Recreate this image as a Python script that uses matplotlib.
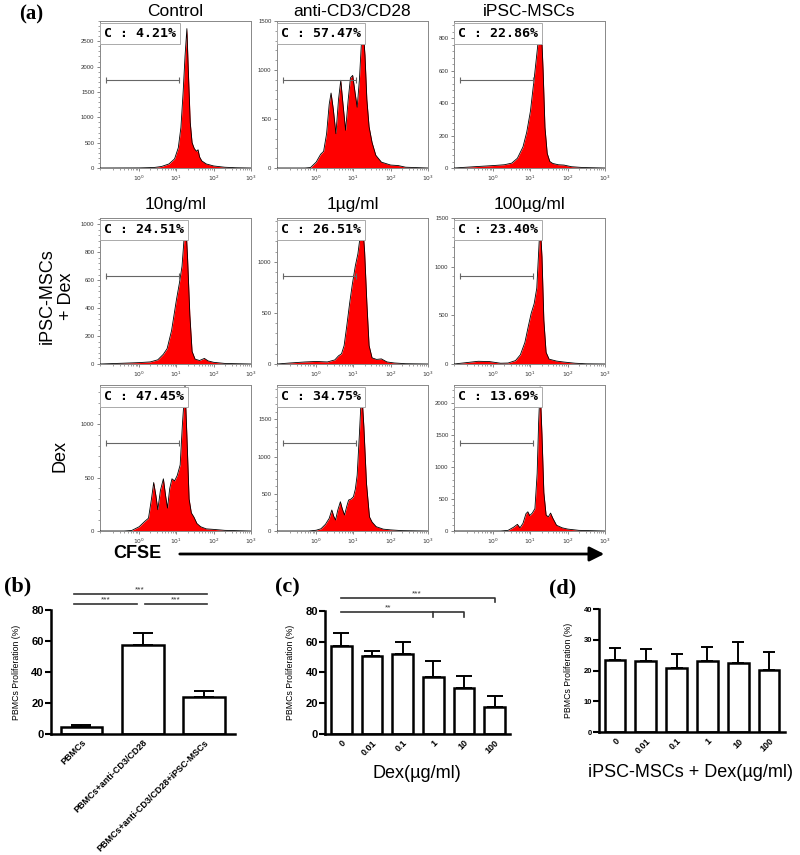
import matplotlib
matplotlib.use("Agg")
import matplotlib.pyplot as plt
import matplotlib.transforms as mtransforms
from matplotlib.patches import FancyArrowPatch
from matplotlib.ticker import LogLocator, NullFormatter, FixedLocator, AutoMinorLocator
import numpy as np

plt.rcParams['font.family'] = ['Liberation Sans', 'DejaVu Sans']

W, H = 800, 855

# (a) flow histograms, x as log10(CFSE), y as counts
ctrl_lx = [-1.05, 0.0, 0.4, 0.6, 0.8, 0.95, 1.05, 1.12, 1.18, 1.23, 1.28, 1.32, 1.37, 1.42, 1.48, 1.54, 1.58, 1.62, 1.68, 1.8, 2.0, 2.3, 2.6, 3.0]
ctrl_n = [0, 2, 10, 30, 80, 180, 400, 800, 1500, 2200, 2750, 1900, 900, 500, 380, 330, 360, 220, 140, 80, 40, 15, 5, 0]

cd3_lx = [-1.05, -0.3, -0.15, 0.0, 0.12, 0.2, 0.28, 0.35, 0.40, 0.46, 0.53, 0.6, 0.66, 0.72, 0.79, 0.86, 0.92, 0.98, 1.04, 1.10, 1.16, 1.21, 1.26, 1.31, 1.36, 1.42, 1.5, 1.6, 1.75, 2.0, 2.2, 2.4, 3.0]
cd3_n = [0, 0, 5, 60, 140, 170, 350, 650, 765, 600, 350, 700, 895, 650, 385, 700, 920, 945, 780, 620, 900, 1250, 1420, 1150, 700, 420, 260, 130, 60, 30, 25, 8, 0]

msc_lx = [-1.05, -0.5, 0.0, 0.3, 0.5, 0.65, 0.8, 0.9, 1.0, 1.1, 1.18, 1.24, 1.29, 1.34, 1.39, 1.45, 1.52, 1.6, 1.75, 1.9, 2.1, 2.4, 3.0]
msc_n = [0, 8, 15, 20, 30, 60, 130, 220, 350, 550, 720, 850, 880, 600, 250, 90, 40, 28, 20, 18, 8, 3, 0]

m10ng_lx = [-1.05, -0.5, 0.0, 0.3, 0.5, 0.65, 0.75, 0.87, 1.0, 1.08, 1.15, 1.2, 1.25, 1.3, 1.36, 1.42, 1.5, 1.62, 1.75, 1.85, 2.0, 2.3, 3.0]
m10ng_n = [0, 5, 10, 15, 30, 70, 110, 240, 460, 580, 700, 880, 1020, 750, 350, 90, 35, 25, 40, 22, 12, 4, 0]

m1ug_lx = [-1.05, -0.7, -0.3, 0.0, 0.3, 0.5, 0.6, 0.68, 0.75, 0.82, 0.9, 0.97, 1.05, 1.12, 1.18, 1.25, 1.3, 1.36, 1.42, 1.5, 1.62, 1.75, 1.9, 2.1, 2.4, 3.0]
m1ug_n = [0, 10, 20, 25, 20, 40, 80, 100, 180, 370, 600, 780, 960, 1080, 1250, 1360, 1100, 600, 180, 60, 45, 50, 20, 10, 3, 0]

m100ug_lx = [-1.05, -0.7, -0.4, -0.1, 0.2, 0.4, 0.6, 0.73, 0.85, 0.95, 1.02, 1.1, 1.17, 1.22, 1.26, 1.31, 1.36, 1.42, 1.5, 1.7, 1.9, 2.2, 2.5, 3.0]
m100ug_n = [0, 15, 28, 25, 8, 10, 35, 95, 220, 400, 520, 620, 780, 1150, 1450, 1100, 450, 120, 50, 30, 20, 8, 2, 0]

d10ng_lx = [-1.05, -0.4, -0.2, 0.0, 0.15, 0.25, 0.33, 0.39, 0.45, 0.5, 0.57, 0.65, 0.71, 0.76, 0.82, 0.88, 0.95, 1.02, 1.1, 1.16, 1.23, 1.28, 1.34, 1.4, 1.47, 1.55, 1.65, 1.8, 2.0, 2.3, 3.0]
d10ng_n = [0, 0, 5, 40, 90, 120, 300, 455, 330, 200, 380, 490, 330, 215, 400, 490, 470, 520, 620, 1000, 1360, 900, 300, 170, 130, 70, 40, 20, 15, 6, 0]

d1ug_lx = [-1.05, -0.2, 0.0, 0.13, 0.25, 0.35, 0.42, 0.47, 0.52, 0.58, 0.65, 0.7, 0.76, 0.82, 0.87, 0.94, 1.0, 1.05, 1.1, 1.16, 1.22, 1.28, 1.35, 1.43, 1.5, 1.61, 1.8, 2.0, 2.3, 3.0]
d1ug_n = [0, 0, 10, 30, 90, 170, 282, 200, 147, 280, 393, 300, 214, 330, 415, 430, 460, 560, 750, 1300, 1900, 1400, 640, 190, 120, 58, 25, 15, 5, 0]

d100ug_lx = [-1.05, 0.2, 0.4, 0.55, 0.65, 0.72, 0.8, 0.88, 0.93, 0.98, 1.05, 1.12, 1.18, 1.22, 1.26, 1.31, 1.36, 1.42, 1.48, 1.54, 1.6, 1.7, 1.85, 2.0, 2.3, 3.0]
d100ug_n = [0, 0, 10, 60, 104, 50, 120, 270, 300, 240, 280, 350, 900, 1700, 2250, 1500, 600, 250, 220, 280, 200, 90, 50, 30, 10, 0]

hist_lx = [ctrl_lx, cd3_lx, msc_lx, m10ng_lx, m1ug_lx, m100ug_lx, d10ng_lx, d1ug_lx, d100ug_lx]
hist_n = [ctrl_n, cd3_n, msc_n, m10ng_n, m1ug_n, m100ug_n, d10ng_n, d1ug_n, d100ug_n]
hist_titles = ["Control", "anti-CD3/CD28", "iPSC-MSCs", "10ng/ml", "1µg/ml", "100µg/ml", "", "", ""]
hist_gates = ["4.21%", "57.47%", "22.86%", "24.51%", "26.51%", "23.40%", "47.45%", "34.75%", "13.69%"]
hist_ymax = [2900, 1500, 905, 1045, 1430, 1500, 1370, 1960, 2280]
hist_yticks = [[0, 500, 1000, 1500, 2000, 2500], [0, 500, 1000, 1500], [0, 200, 400, 600, 800],
               [0, 200, 400, 600, 800, 1000], [0, 500, 1000], [0, 500, 1000, 1500],
               [0, 500, 1000], [0, 500, 1000, 1500], [0, 500, 1000, 1500, 2000]]

# (b) proliferation
b_labels = ["PBMCs", "PBMCs+anti-CD3/CD28", "PBMCs+anti-CD3/CD28+iPSC-MSCs"]
b_mean = [4.3, 57.2, 23.8]
b_upper = [6.0, 65.4, 27.5]

# (c) Dex alone, (d) iPSC-MSCs + Dex
dex_labels = ["0", "0.01", "0.1", "1", "10", "100"]
c_mean = [57.3, 50.6, 51.9, 36.8, 30.0, 17.7]
c_upper = [65.3, 54.0, 59.9, 47.6, 37.8, 24.9]
d_mean = [23.5, 23.1, 20.8, 23.1, 22.6, 20.2]
d_upper = [27.4, 27.0, 25.4, 27.6, 29.2, 26.1]


def rect(left, top, right, bottom):
    return [left / W, 1 - bottom / H, (right - left) / W, (bottom - top) / H]


fig = plt.figure(figsize=(W / 100, H / 100), dpi=100)

col_left = [100, 277, 454]
rows = [(21, 168), (218, 364), (385, 531)]
for i in range(9):
    r, c = divmod(i, 3)
    top, bottom = rows[r]
    ax = fig.add_axes(rect(col_left[c], top, col_left[c] + 151, bottom))
    x = 10 ** np.array(hist_lx[i])
    ax.fill_between(x, hist_n[i], color='#ff0000', lw=0, zorder=2)
    ax.plot(x, hist_n[i], color='black', lw=0.6, zorder=3)
    ax.set_xscale('log')
    ax.set_xlim(10 ** -1.05, 1000)
    ax.set_ylim(0, hist_ymax[i])
    ax.xaxis.set_major_locator(FixedLocator([1, 10, 100, 1000]))
    ax.set_xticklabels([r'$10^{0}$', r'$10^{1}$', r'$10^{2}$', r'$10^{3}$'])
    ax.xaxis.set_minor_locator(LogLocator(subs=np.arange(2, 10)))
    ax.xaxis.set_minor_formatter(NullFormatter())
    ax.set_yticks(hist_yticks[i])
    ax.yaxis.set_minor_locator(AutoMinorLocator(5))
    ax.tick_params(which='major', length=2.5, width=0.5, labelsize=4.3, color='#555', labelcolor='#333', pad=1.5)
    ax.tick_params(which='minor', length=1.3, width=0.4, color='#555')
    for s in ax.spines.values():
        s.set_color('#888')
        s.set_linewidth(0.7)
    # gate
    tr = mtransforms.blended_transform_factory(ax.transData, ax.transAxes)
    ax.plot([10 ** -0.88, 10 ** 1.06], [0.6, 0.6], transform=tr, color='#666', lw=0.8,
            marker='|', markersize=5, markeredgewidth=0.8, zorder=4)
    ax.text(0.027, 0.918, "C : " + hist_gates[i], transform=ax.transAxes, family='DejaVu Sans Mono',
            weight='bold', fontsize=9.5, ha='left', va='center', zorder=5,
            bbox=dict(boxstyle='square,pad=0.3', fc='white', ec='#aaaaaa', lw=0.7))
    if hist_titles[i]:
        ty = 11 if r == 0 else 205
        fig.text((col_left[c] + 75.5) / W, 1 - ty / H, hist_titles[i], fontsize=12.5, ha='center', va='center')

fig.text(31 / W, 1 - 14 / H, "(a)", family='Liberation Serif', weight='bold', fontsize=15, ha='center', va='center')
fig.text(57 / W, 1 - 296 / H, "iPSC-MSCs\n+ Dex", rotation=90, fontsize=13, ha='center', va='center',
         multialignment='center', linespacing=1.15)
fig.text(60 / W, 1 - 456 / H, "Dex", rotation=90, fontsize=13, ha='center', va='center')
fig.text(137 / W, 1 - 553 / H, "CFSE", weight='bold', fontsize=13, ha='center', va='center')
fig.add_artist(FancyArrowPatch((177 / W, 1 - 554 / H), (607 / W, 1 - 554 / H), transform=fig.transFigure,
                               arrowstyle='-|>', mutation_scale=22, lw=2, color='black'))


def bar_panel(r, labels, means, uppers, ymax, step, xlim, capsize, tick_fs):
    ax = fig.add_axes(r)
    pos = np.arange(len(means))
    err = np.array(uppers) - np.array(means)
    ax.bar(pos, means, width=0.68, color='white', edgecolor='black', linewidth=1.8, zorder=2)
    ax.errorbar(pos, means, yerr=[np.zeros_like(err), err], fmt='none', ecolor='black',
                elinewidth=1.4, capsize=capsize, capthick=1.4, zorder=3)
    ax.set_xlim(*xlim)
    ax.set_ylim(0, ymax)
    ax.set_yticks(np.arange(0, ymax + 1, step))
    ax.set_xticks(pos)
    ax.set_xticklabels(labels, rotation=45, ha='right', rotation_mode='anchor', fontsize=6.5, weight='bold')
    for t in ax.get_yticklabels():
        t.set_fontweight('bold')
        t.set_fontsize(tick_fs)
    ax.spines['top'].set_visible(False)
    ax.spines['right'].set_visible(False)
    ax.spines['left'].set_linewidth(1.8)
    ax.spines['bottom'].set_linewidth(1.8)
    ax.tick_params(axis='y', length=4, width=1.5, pad=1)
    ax.tick_params(axis='x', length=0, pad=3)
    ax.set_ylabel("PBMCs Proliferation (%)", fontsize=6.3)
    ax.yaxis.set_label_coords(-0.16, 0.5)
    return ax


# (b)
axb = bar_panel(rect(50.7, 610, 235, 734), b_labels, b_mean, b_upper, 80, 20, (-0.5, 2.5), 7.5, 8)
sig = dict(color='#333', lw=1.2, clip_on=False)
axb.plot([-0.12, 0.90], [83.7, 83.7], **sig)
axb.plot([1.03, 2.05], [83.7, 83.7], **sig)
axb.plot([-0.12, 2.05], [90.1, 90.1], **sig)
for xs, ys in [(0.40, 84.2), (1.53, 84.2), (0.95, 90.6)]:
    axb.text(xs, ys, "***", fontsize=6, ha='center', va='bottom', color='#333')
fig.text(18 / W, 1 - 586 / H, "(b)", family='Liberation Serif', weight='bold', fontsize=16, ha='center', va='center')

# (c)
axc = bar_panel(rect(325, 610.7, 510, 734), dex_labels, c_mean, c_upper, 80, 20, (-0.53, 5.5), 5.5, 8)
axc.plot([0, 5, 5], [88.1, 88.1, 85.5], **sig)
axc.plot([0, 4, 4], [79.0, 79.0, 76.0], **sig)
axc.plot([3, 3], [79.0, 76.0], **sig)
axc.text(2.45, 88.6, "***", fontsize=6, ha='center', va='bottom', color='#333')
axc.text(1.53, 79.5, "**", fontsize=6, ha='center', va='bottom', color='#333')
fig.text(287 / W, 1 - 587 / H, "(c)", family='Liberation Serif', weight='bold', fontsize=16, ha='center', va='center')
fig.text(417 / W, 1 - 773 / H, "Dex(µg/ml)", fontsize=13, ha='center', va='center')

# (d)
axd = bar_panel(rect(599.3, 609, 785, 732.3), dex_labels, d_mean, d_upper, 40, 10, (-0.51, 5.52), 4.5, 5.5)
axd.yaxis.set_label_coords(-0.14, 0.5)
fig.text(563 / W, 1 - 588 / H, "(d)", family='Liberation Serif', weight='bold', fontsize=16, ha='center', va='center')
fig.text(690 / W, 1 - 772 / H, "iPSC-MSCs + Dex(µg/ml)", fontsize=13, ha='center', va='center')

fig.savefig("out.png", dpi=100)
